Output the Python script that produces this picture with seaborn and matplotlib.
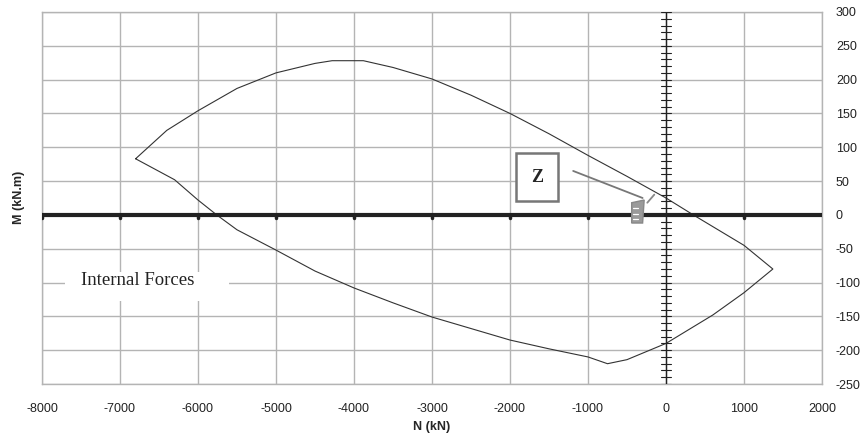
import numpy as np
import pandas as pd
import matplotlib.pyplot as plt
import seaborn as sns

# interaction curve (N in kN, M in kN.m)
upper_n = [-6800, -6400, -6000, -5500, -5000, -4500, -4280, -3880, -3500, -3000,
           -2500, -2000, -1500, -1000, -500, 0, 350, 1000, 1370]
upper_m = [83, 125, 154, 187, 210, 224, 228, 228, 218, 201,
           177, 150, 120, 88, 57, 25, 0, -45, -80]
lower_n = [1370, 1000, 600, 0, -500, -750, -1000, -1500, -2000, -2500,
           -3000, -3500, -4000, -4500, -5000, -5500, -5760, -6000, -6300, -6800]
lower_m = [-80, -115, -148, -190, -214, -220, -210, -198, -185, -168,
           -151, -130, -108, -83, -52, -22, 0, 22, 52, 83]

x_ticks = list(range(-8000, 2001, 1000))
y_ticks = list(range(-250, 301, 50))

curve = pd.DataFrame({
    "N": upper_n + lower_n,
    "M": upper_m + lower_m,
})

sns.set_style("white")
plt.rcParams['font.family'] = ['Liberation Sans', 'DejaVu Sans']
plt.rcParams['axes.unicode_minus'] = False

fig = plt.figure(figsize=(8.66, 4.36), dpi=100)
ax = fig.add_axes([42 / 866, 1 - 384 / 436, (822 - 42) / 866, (384 - 12) / 436])

ax.set_xlim(-8000, 2000)
ax.set_ylim(-250, 300)
ax.set_xticks(x_ticks)
ax.set_yticks(y_ticks)
ax.grid(True, color="#b4b4b4", linewidth=1.0)
ax.set_axisbelow(True)
for s in ax.spines.values():
    s.set_color("#b4b4b4")
    s.set_linewidth(1.0)

ax.yaxis.tick_right()
ax.tick_params(axis="both", length=0, labelsize=9, colors="#222222")
ax.tick_params(axis="x", pad=14)
ax.tick_params(axis="y", pad=10)

sns.lineplot(data=curve, x="N", y="M", sort=False, estimator=None,
             color="#333333", linewidth=0.8, ax=ax)

# thick horizontal axis at M=0 with small ticks
ax.axhline(0, color="#222222", linewidth=3, zorder=3)
for xv in x_ticks[:-1]:
    if xv != 0:
        ax.plot([xv, xv], [0, -5], color="#222222", linewidth=2.5, zorder=3)

# vertical axis at N=0 with cross ticks every 10
ax.axvline(0, color="#222222", linewidth=1.0, zorder=3)
for yv in range(-250, 301, 10):
    ax.plot([-60, 60], [yv, yv], color="#222222", linewidth=0.8, zorder=3)

ax.set_xlabel("N (kN)", fontsize=9, fontweight="bold", labelpad=4)
ax.set_ylabel("")
fig.text(19 / 866, 1 - 197 / 436, "M (kN.m)", rotation=90, fontsize=9,
         fontweight="bold", ha="center", va="center")

# Z label box and pointer
ax.text(-1654, 56, "Z", fontsize=13, fontweight="bold", family="Liberation Serif",
        ha="center", va="center", zorder=5,
        bbox=dict(boxstyle="square,pad=0.85", fc="white", ec="#777777", lw=1.8))
ax.plot([-1190, -300], [65, 25], color="#777777", linewidth=1.3, zorder=5)
icon = plt.Polygon([(-440, 18), (-280, 22), (-300, -12), (-440, -12)],
                   fc="#9a9a9a", ec="#888888", zorder=5)
ax.add_patch(icon)
for yy in [-6, 2, 10]:
    ax.plot([-420, -360], [yy, yy], color="white", linewidth=0.9, zorder=6)
ax.plot([-240, -150], [18, 30], color="#888888", linewidth=1.3, zorder=5)

# Internal Forces label on a white patch hiding the grid
ax.add_patch(plt.Rectangle((-7700, -128), 2100, 44, fc="white", ec="none", zorder=4))
ax.text(-6770, -97, "Internal Forces", fontsize=13.5, family="Liberation Serif",
        ha="center", va="center", color="#222222", zorder=5)

fig.savefig("out.png", dpi=100)
